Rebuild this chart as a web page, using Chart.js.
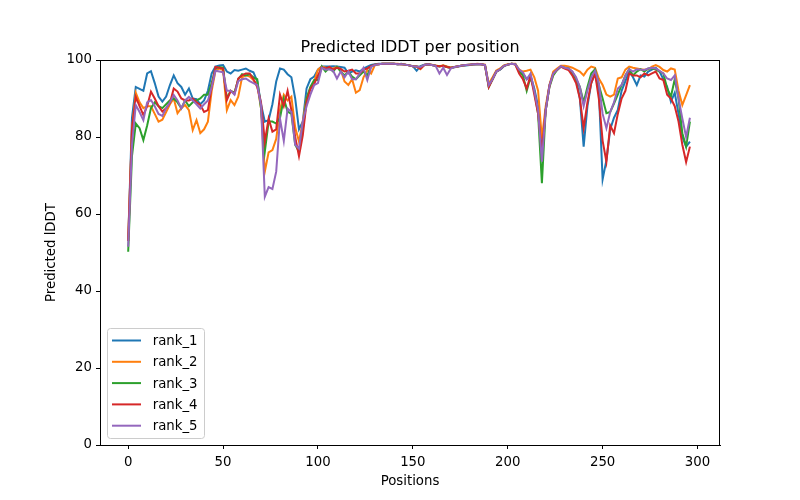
<!DOCTYPE html>
<html><head><meta charset="utf-8">
<script src="https://cdn.jsdelivr.net/npm/chart.js@4"></script>
<style>html,body{margin:0;padding:0;background:#fff}</style>
</head><body>
<canvas id="c" width="800" height="500"></canvas>
<script>
const positions = Array.from({length:149},(_,i)=>i*2);
const rank_1 = [
53,85,93,92.5,92,96.5,97.1,94,90.5,89.2,
90.5,93.5,96,94,93,91,92.6,90,89.8,88.5,
89.5,92,96.5,98.3,98.6,98.7,97,96.5,97.4,97.2,
97.5,97.8,97.2,96.8,94.5,88.5,84,84.4,88.5,94.4,
97.8,97.5,96.3,95.5,90,82,84,92.6,95,95.7,
97.5,98.3,98.3,98.3,98.4,98.3,98.2,98,96.5,97,
97.3,97,97.8,98.3,98.7,98.9,99,99,99,99,
99,98.9,99,98.8,98.6,98.4,97.2,98.4,98.8,98.9,
98.7,98.5,98.3,98.5,98.2,97.9,98.1,98.3,98.5,98.6,
98.7,98.8,98.9,98.9,98.7,93.3,95,97,97.5,98.4,
98.8,99,98.9,97.2,96.5,95,96,92.6,88,75.5,
87,93.5,96.5,97.4,98.3,98,97.8,97,95.2,90,
77.5,88,94,96.5,92,69,74,82,85,87,
92,94.5,97,95.5,93.5,96,95.7,97,97.5,98,
97,95,93,89.2,91.5,86,80,77.5,78.8];
const rank_2 = [
53,82,91.5,89,87.5,88,88,86,84,84.5,
86.5,88.5,90,86.2,87.5,88.3,87,81.8,84.4,81,
82,84,92,97.2,97.8,97.4,87,89.6,88.3,90.5,
95.5,96,95.7,94.8,93.5,87.5,71,76,76.6,79.5,
87,91,89.5,90.5,82.5,78.8,84,90,92.6,94.4,
97.5,98.3,98,97.6,97.8,98.2,97.5,94.4,93.5,95,
91.5,92.2,95.5,97.4,96.5,98.7,98.9,99,99,99,
99,99,98.9,98.8,98.6,98.4,98.4,97.6,98.7,98.9,
98.8,98.6,98.4,98.6,98.3,98,98.2,98.4,98.6,98.7,
98.8,98.9,99,98.9,98.8,93.8,95.5,97.3,97.8,98.6,
98.9,99,99,97.5,97,97.2,97.5,95.5,92,79.6,
88,93.5,97,97.8,98.5,98.5,98.3,98,97.5,97,
96,97.5,98.3,98,95.2,93.5,91,90.5,91,95.2,
95.5,97.5,98.3,98,97.8,97.6,97.5,97.6,98.3,98.7,
98.2,97.4,97,97.8,97.5,92,88.3,90.9,93.5];
const rank_3 = [
50.2,75,83.5,82.3,79.2,83,87.5,89,88,87.5,
88.5,89.5,90,89,87.5,89.5,88,89,89.5,90,
91,91,94,97.8,98.2,98,90,92,91.5,95,
96.3,96,96.3,95.5,95,87.4,76.2,84,84,83.5,
85,90,86.6,86,78,76.2,82,90,93,94.8,
94.8,98.3,97,98,97,98.2,97,96,97,95.7,
95,96,97,96,98.3,98.8,98.9,99,99,99,
99,98.9,98.9,98.8,98.6,98.4,98.3,98.2,98.7,98.9,
98.7,98.5,98.4,98.5,98.2,98,98.2,98.4,98.6,98.7,
98.8,98.9,98.9,98.9,98.7,93,95,97,97.6,98.5,
98.8,99,98.9,97,96,92,95.5,92,86,68,
87,93,96,97.4,98.3,98,97.8,96.5,95,93,
89,93,96.5,97.6,93.5,90,86.2,86.5,88.7,91,
93.5,96,97.6,96,97,97.6,97,97.8,97.8,97.5,
97,96.5,92.6,90.5,95,90,81,77.5,84];
const rank_4 = [
53,82,90.4,88,85.7,88,91.8,90,88,86.6,
87.5,88.8,92.6,91.8,90,89.5,89.5,90,89,88.3,
86.5,87,93,98.2,98,97.8,89.6,92,91.2,95.2,
96,96.5,96.5,95,93,89,78.8,84.8,81.4,82,
91,88,92,87,80,75,80.4,89,92.5,93.8,
96,98,97.8,98.2,97.5,98,97.7,97,97.2,97.5,
96.5,96.5,97.5,97.8,98.4,98.8,98.9,99,99,99,
99,98.9,98.9,98.8,98.6,98.4,98.3,97.7,98.7,98.9,
98.7,98.5,98.4,98.5,98.2,98,98.2,98.4,98.6,98.7,
98.8,98.9,98.9,98.9,98.7,93,95,97,97.6,98.5,
98.8,99,98.8,96.5,95,92.6,96,91,86,76.2,
87,93.3,96.5,97.5,98.3,97.8,97.4,96,94,90,
82.3,89,94,96.5,90,79,73.6,83,81,86,
90,92,96.5,96,96,95.5,96.5,96,96.5,97,
95.2,94.8,91,90,88,84,78,73.5,77.5];
const rank_5 = [
51.5,78,88.3,86.5,84.4,89,89.6,88,86,85.5,
87.5,89,90.9,89.5,87.4,89.5,90.4,89.5,88.5,87.4,
88.5,89.5,93,97.2,97,96.8,92,92,91,94.5,
95,95.2,94.5,94,93.5,88.3,64.5,67,66.5,71,
84.8,79,87.4,86.5,78,77,84,88,91,93.5,
94,98,97.5,97.6,97.2,95.2,97,95.5,97,95,
95,96.5,98,94.8,98.2,98.7,98.9,99,99,99,
99,98.9,98.9,98.8,98.6,98.4,98.3,98.2,98.7,98.9,
98.7,98.5,96.5,98,96.1,97.8,98.2,98.4,98.6,98.7,
98.8,98.9,98.9,98.9,98.7,93.5,95,97,97.6,98.5,
98.8,99,98.9,97.5,96.8,95,96.5,92,87,73.6,
87,93.3,96.5,97.5,98.4,98,97.8,97,95.5,93,
88,92,95.5,97.2,94,86,82.3,86.5,89,92.6,
93.5,96,97.6,97,97.6,97.5,97.4,97.8,98,97.8,
97.2,96.5,95.2,94.8,96,90,84.8,80,85];
const seriesNames = ['rank_1','rank_2','rank_3','rank_4','rank_5'];
const seriesValues = [rank_1, rank_2, rank_3, rank_4, rank_5];
const seriesColors = ['#1f77b4','#ff7f0e','#2ca02c','#d62728','#9467bd'];
const xTicks = [0,50,100,150,200,250,300];
const yTicks = [0,20,40,60,80,100];
const titleText = 'Predicted lDDT per position';
const xLabel = 'Positions';
const yLabel = 'Predicted lDDT';

const FAMILY = "'DejaVu Sans', sans-serif";

const datasets = seriesValues.map((arr, i) => ({
  label: seriesNames[i],
  data: positions.map((x, j) => ({x: x, y: arr[j]})),
  borderColor: seriesColors[i],
  backgroundColor: seriesColors[i],
  borderWidth: 2,
  pointRadius: 0,
  tension: 0,
  fill: false,
  order: 5 - i
}));

const decor = {
  id: 'decor',
  afterDraw(chart) {
    const ctx = chart.ctx;
    const a = chart.chartArea;
    ctx.save();
    ctx.strokeStyle = '#000';
    ctx.lineWidth = 1;
    ctx.strokeRect(a.left + 0.5, a.top + 0.5, a.right - a.left - 1, a.bottom - a.top);
    ctx.fillStyle = '#000';
    ctx.font = '16px ' + FAMILY;
    ctx.textAlign = 'center';
    ctx.textBaseline = 'alphabetic';
    ctx.fillText(titleText, (a.left + a.right) / 2, a.top - 8.5);
    const bx = 107.5, by = 328.5, bw = 97, bh = 110, r = 3;
    ctx.beginPath();
    ctx.moveTo(bx + r, by);
    ctx.lineTo(bx + bw - r, by);
    ctx.arcTo(bx + bw, by, bx + bw, by + r, r);
    ctx.lineTo(bx + bw, by + bh - r);
    ctx.arcTo(bx + bw, by + bh, bx + bw - r, by + bh, r);
    ctx.lineTo(bx + r, by + bh);
    ctx.arcTo(bx, by + bh, bx, by + bh - r, r);
    ctx.lineTo(bx, by + r);
    ctx.arcTo(bx, by, bx + r, by, r);
    ctx.closePath();
    ctx.fillStyle = 'rgba(255,255,255,0.8)';
    ctx.fill();
    ctx.strokeStyle = '#cccccc';
    ctx.lineWidth = 1;
    ctx.stroke();
    ctx.font = '13.3px ' + FAMILY;
    ctx.textAlign = 'left';
    ctx.textBaseline = 'middle';
    chart.data.datasets.forEach((ds, i) => {
      const y = 340.5 + i * 21.3;
      ctx.strokeStyle = ds.borderColor;
      ctx.lineWidth = 2;
      ctx.beginPath();
      ctx.moveTo(112, y);
      ctx.lineTo(141, y);
      ctx.stroke();
      ctx.fillStyle = '#000';
      ctx.fillText(ds.label, 152.7, y + 1);
    });
    ctx.restore();
  }
};

new Chart(document.getElementById('c'), {
  type: 'line',
  data: { datasets },
  options: {
    responsive: false,
    devicePixelRatio: 1,
    animation: false,
    layout: { padding: { left: 0, right: 80, top: 60, bottom: 0 } },
    plugins: { legend: { display: false }, title: { display: false }, tooltip: { enabled: false } },
    scales: {
      x: {
        type: 'linear', min: -14.85, max: 311.85,
        afterBuildTicks: s => { s.ticks = xTicks.map(v => ({value: v})); },
        afterFit: s => { s.height = 55; },
        grid: { display: true, drawOnChartArea: false, drawTicks: true, tickLength: 4, color: '#000', lineWidth: 1 },
        border: { display: true, color: '#000', width: 1 },
        ticks: { color: '#000', font: { family: FAMILY, size: 13.3 }, padding: 6, maxRotation: 0, autoSkip: false },
        title: { display: true, text: xLabel, color: '#000', font: { family: FAMILY, size: 13.3 }, padding: { top: 0, bottom: 10 } }
      },
      y: {
        type: 'linear', min: 0, max: 100,
        afterBuildTicks: s => { s.ticks = yTicks.map(v => ({value: v})); },
        afterFit: s => { s.width = 100; },
        grid: { display: true, drawOnChartArea: false, drawTicks: true, tickLength: 4, color: '#000', lineWidth: 1 },
        border: { display: true, color: '#000', width: 1 },
        ticks: { color: '#000', font: { family: FAMILY, size: 13.3 }, padding: 4, autoSkip: false },
        title: { display: true, text: yLabel, color: '#000', font: { family: FAMILY, size: 13.3 }, padding: { top: 44, bottom: 0 } }
      }
    }
  },
  plugins: [decor]
});
</script>
</body></html>
